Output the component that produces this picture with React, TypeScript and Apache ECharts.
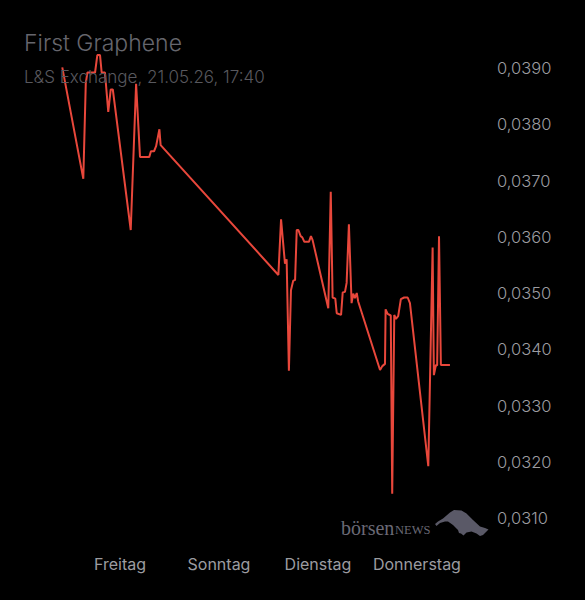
import React, { useEffect, useRef } from "react";
import * as echarts from "echarts";

// hours since Thursday 00:00 (Freitag = 24h, Donnerstag = 168h)
const hours = [
  -4.0, 6.2, 7.4, 8.2, 11.9, 13.0, 14.3, 15.1, 16.7, 18.3, 19.5, 20.5, 29.2, 31.8, 33.7, 38.2,
  39.0, 40.5, 41.5, 43.1, 43.7, 100.8, 102.1, 104.0, 104.8, 105.9, 106.9, 108.0, 108.9, 109.7,
  110.5, 111.6, 112.4, 113.4, 115.6, 116.6, 117.4, 125.0, 126.2, 127.1, 128.4, 129.1, 131.2,
  132.0, 133.1, 133.9, 135.0, 136.3, 137.1, 137.9, 138.8, 139.5, 150.1, 151.2, 152.5, 152.8,
  153.8, 155.3, 156.0, 157.0, 157.8, 158.9, 160.2, 161.8, 163.5, 164.6, 173.5, 175.6, 176.2,
  177.2, 177.8, 178.7, 179.6, 184.0,
];
const prices = [
  0.03901, 0.03703, 0.03873, 0.03892, 0.03892, 0.03923, 0.03923, 0.03892, 0.03892, 0.03822,
  0.03862, 0.03862, 0.03612, 0.03872, 0.03742, 0.03742, 0.03752, 0.03752, 0.03761, 0.03791,
  0.03763, 0.03532, 0.03631, 0.03552, 0.0356, 0.03362, 0.03505, 0.03522, 0.03523, 0.03612,
  0.03612, 0.03601, 0.03599, 0.03591, 0.03591, 0.03601, 0.03594, 0.03473, 0.0368, 0.03492,
  0.0349, 0.03464, 0.03461, 0.03501, 0.03502, 0.03518, 0.03622, 0.03482, 0.03499, 0.03491,
  0.035, 0.03485, 0.03363, 0.0337, 0.03374, 0.03471, 0.03463, 0.0346, 0.03143, 0.03461,
  0.03454, 0.03459, 0.03489, 0.03492, 0.03492, 0.03482, 0.03192, 0.03581, 0.03354, 0.03372,
  0.03371, 0.03601, 0.03372, 0.03372,
];
const dayTicks = [24, 72, 120, 168];
const dayLabels = ["Freitag", "Sonntag", "Dienstag", "Donnerstag"];
const titleText = "First Graphene";
const subtitleText = "L&S Exchange, 21.05.26, 17:40";

export default function App() {
  const ref = useRef<HTMLDivElement>(null);
  useEffect(() => {
    document.body.style.margin = "0";
    const chart = echarts.init(ref.current!, undefined, { renderer: "svg" });
    const data = hours.map((h, i) => [h, prices[i]]);
    chart.setOption({
      animation: false,
      backgroundColor: "#000000",
      title: [
        {
          text: titleText,
          left: 19,
          top: 26,
          textStyle: { fontSize: 23, fontWeight: 300, color: "#66666d", fontFamily: "Inter" },
        },
        {
          text: subtitleText,
          left: 19,
          top: 63,
          textStyle: { fontSize: 17, fontWeight: 300, color: "#58585e", fontFamily: "Inter" },
        },
      ],
      grid: { left: 20, right: 100, top: 68, bottom: 82 },
      xAxis: {
        type: "value",
        min: -24.5,
        max: 201,
        axisLine: { show: false },
        axisTick: { show: false },
        splitLine: { show: false },
        axisLabel: {
          customValues: dayTicks,
          margin: 38,
          color: "#9c9ca0",
          fontSize: 16,
          fontFamily: "Inter",
          formatter: (v: number) => dayLabels[dayTicks.indexOf(Math.round(v))] ?? "",
        },
      },
      yAxis: {
        type: "value",
        position: "right",
        min: 0.031,
        max: 0.039,
        interval: 0.001,
        axisLine: { show: false },
        axisTick: { show: false },
        splitLine: { show: false },
        axisLabel: {
          margin: 12,
          color: "#9c9ca0",
          fontSize: 16.5,
          fontWeight: 300,
          fontFamily: "Inter",
          formatter: (v: number) => v.toFixed(4).replace(".", ","),
        },
      },
      graphic: [
        {
          type: "text",
          x: 341,
          y: 538,
          style: {
            text: "börsen",
            fontSize: 20,
            fontFamily: "Liberation Serif",
            fill: "#6a6975",
            verticalAlign: "bottom",
          },
        },
        {
          type: "text",
          x: 395,
          y: 536,
          style: {
            text: "NEWS",
            fontSize: 12.5,
            fontFamily: "Liberation Serif",
            fill: "#6a6975",
            verticalAlign: "bottom",
          },
        },
        {
          type: "polygon",
          shape: {
            points: [
              [435, 524], [438, 521.5], [443, 518.5], [450, 512.5], [454, 510], [461.5, 510.5],
              [466.5, 513.5], [473, 520], [480, 526.5], [485, 528], [488.5, 529.5], [486, 532],
              [483, 535], [480, 536], [476.5, 533.5], [471.5, 531.5], [466.5, 532.5], [463.5, 535.5],
              [461, 533.5], [459, 533], [458, 530], [453, 525], [448, 521.5], [445, 521.5],
              [440, 523], [436.5, 526],
            ],
          },
          style: { fill: "#5a5967" },
        },
      ],
      series: [
        {
          type: "line",
          data,
          showSymbol: false,
          clip: false,
          lineStyle: { color: "#e8473b", width: 2 },
        },
      ],
    });
    return () => chart.dispose();
  }, []);
  return <div ref={ref} style={{ width: 585, height: 600, background: "#000" }} />;
}
